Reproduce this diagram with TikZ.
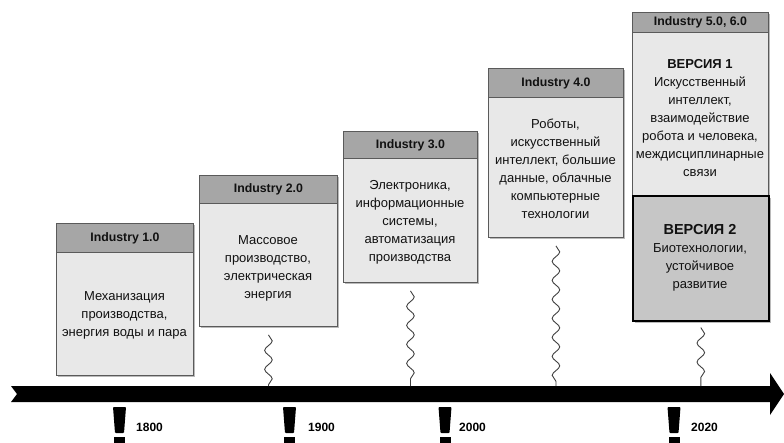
\documentclass[tikz,border=0pt]{standalone}
\usepackage{fontspec}
\setmainfont{Liberation Sans}
\usetikzlibrary{decorations.pathmorphing,shadows}
\definecolor{hdr}{HTML}{A6A6A6}
\definecolor{bodyc}{HTML}{E8E8E8}
\definecolor{vertwo}{HTML}{C6C6C6}
\definecolor{edgec}{HTML}{5A5A5A}
\definecolor{txt}{HTML}{111111}
\tikzset{
  shd/.style={drop shadow={shadow xshift=1.8pt, shadow yshift=-1.8pt, fill=black!60, opacity=0.45}},
  bodybox/.style={draw=edgec, fill=bodyc, line width=0.9pt, inner sep=0pt, anchor=north west},
  hdrbox/.style={draw=edgec, fill=hdr, line width=0.9pt, inner sep=0pt, anchor=north west,
                 text=txt, font=\fontsize{12.3}{14}\selectfont\bfseries},
  vtwobox/.style={draw=black, fill=vertwo, line width=1.6pt, inner sep=0pt, anchor=north west},
  bodytext/.style={font=\fontsize{13}{18}\selectfont, align=center, inner sep=0pt, text=txt},
  wave/.style={draw=black!75, line width=0.9pt, decorate,
               decoration={snake, amplitude=3.8pt, segment length=19pt}},
  yearlbl/.style={font=\fontsize{12}{13}\selectfont\bfseries, anchor=west, inner sep=0pt, text=black},
}
\begin{document}
\begin{tikzpicture}[x=1pt,y=-1pt]
\useasboundingbox[fill=white] (0,0) rectangle (784,442);

% timeline arrow
\fill[black] (11,386) -- (770,386) -- (770,373) -- (784,394) -- (770,415)
  -- (770,402) -- (11,402) -- (17,394) -- cycle;
\coordinate (axistop) at (0,386);

% ticks and years
\foreach \c/\yr/\lx in {119.5/1800/136, 289.5/1900/308, 445/2000/459, 674/2020/691}{
  \fill[black, rounded corners=0.8pt] (\c-6.5,407) -- (\c+6.5,407) -- (\c+4.5,433) -- (\c-4.5,433) -- cycle;
  \fill[black] (\c-5.5,437) rectangle (\c+5.5,442.5);
  \node[yearlbl] (yr\yr) at (\lx,427) {\yr};
}

% Box 1
\node[bodybox, shd, minimum width=137pt, minimum height=152pt] (b1) at (56,223) {};
\node[hdrbox, minimum width=137pt, minimum height=29pt] (h1) at (56,223) {Industry 1.0};
\node[bodytext] (x1) at (124.5,315) {Механизация\\производства,\\энергия воды и пара};

% Box 2
\node[bodybox, shd, minimum width=138pt, minimum height=151pt] (b2) at (199,175) {};
\node[hdrbox, minimum width=138pt, minimum height=28pt] (h2) at (199,175) {Industry 2.0};
\node[bodytext] (x2) at (268,268) {Массовое\\производство,\\электрическая\\энергия};

% Box 3
\node[bodybox, shd, minimum width=134pt, minimum height=151pt] (b3) at (343,131) {};
\node[hdrbox, minimum width=134pt, minimum height=27pt] (h3) at (343,131) {Industry 3.0};
\node[bodytext] (x3) at (410,222) {Электроника,\\информационные\\системы,\\автоматизация\\производства};

% Box 4
\node[bodybox, shd, minimum width=135pt, minimum height=169pt] (b4) at (488,68) {};
\node[hdrbox, minimum width=135pt, minimum height=29pt] (h4) at (488,68) {Industry 4.0};
\node[bodytext] (x4) at (555.5,169) {Роботы,\\искусственный\\интеллект, большие\\данные, облачные\\компьютерные\\технологии};

% Box 5
\node[bodybox, shd, minimum width=136pt, minimum height=183pt] (b5) at (632,12) {};
\node[hdrbox, minimum width=136pt, minimum height=20pt] (h5) at (632,12) {Industry 5.0, 6.0};
\node[vtwobox, shd, minimum width=136pt, minimum height=125pt] (v2) at (632,195) {};
\node[bodytext] (x5) at (700,118.5) {\textbf{ВЕРСИЯ 1}\\Искусственный\\интеллект,\\взаимодействие\\робота и человека,\\междисциплинарные\\связи};
\node[bodytext] (x6) at (700,258) {{\fontsize{14.5}{18}\selectfont\textbf{ВЕРСИЯ 2}}\\Биотехнологии,\\устойчивое\\развитие};

% wavy connectors
\draw[wave] ([yshift=-8pt]b2.south) -- (b2.south |- axistop);
\draw[wave] ([yshift=-8pt]b3.south) -- (b3.south |- axistop);
\draw[wave] ([yshift=-8pt]b4.south) -- (b4.south |- axistop);
\draw[wave] ([yshift=-6pt]v2.south) -- (v2.south |- axistop);
\end{tikzpicture}
\end{document}
